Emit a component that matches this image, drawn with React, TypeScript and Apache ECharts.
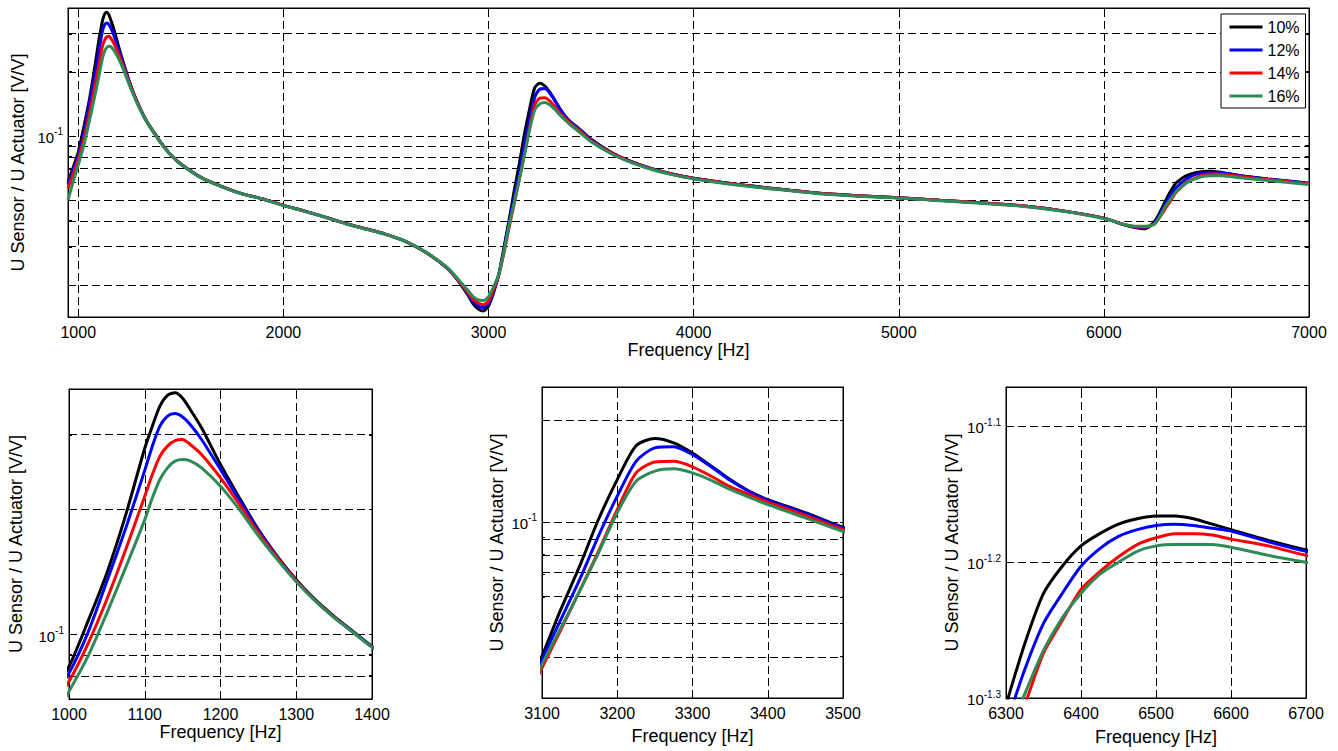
import React, { useEffect, useRef } from "react";
import * as echarts from "echarts";

// Frequency grid [Hz]
const FREQ_HZ = [
  950, 975, 1000, 1025, 1050, 1075, 1100, 1110, 1120, 1130,
  1140, 1150, 1160, 1175, 1200, 1225, 1250, 1275, 1300, 1325,
  1350, 1375, 1400, 1450, 1500, 1600, 1700, 1800, 1850, 1900,
  2000, 2100, 2200, 2300, 2400, 2500, 2600, 2700, 2800, 2850,
  2900, 2925, 2950, 2975, 3000, 3025, 3050, 3075, 3100, 3125,
  3150, 3175, 3200, 3225, 3250, 3275, 3300, 3325, 3350, 3375,
  3400, 3450, 3500, 3600, 3700, 3800, 3900, 4000, 4200, 4400,
  4600, 4800, 5000, 5200, 5400, 5600, 5800, 6000, 6100, 6150,
  6200, 6250, 6300, 6325, 6350, 6375, 6400, 6425, 6450, 6475,
  6500, 6525, 6550, 6575, 6600, 6650, 6700, 6800, 6900, 7000,
];

// log10 of U Sensor / U Actuator [V/V]
const LOG10_GAIN_10 = [
  -1.215, -1.148, -1.076, -0.968, -0.852, -0.712, -0.553, -0.5, -0.452, -0.426,
  -0.42, -0.433, -0.46, -0.504, -0.592, -0.672, -0.748, -0.812, -0.868, -0.916,
  -0.956, -0.992, -1.028, -1.088, -1.132, -1.196, -1.238, -1.272, -1.284, -1.296,
  -1.326, -1.352, -1.38, -1.41, -1.436, -1.462, -1.497, -1.55, -1.622, -1.678,
  -1.748, -1.788, -1.812, -1.822, -1.798, -1.735, -1.65, -1.525, -1.397, -1.259,
  -1.131, -0.993, -0.875, -0.775, -0.753, -0.766, -0.796, -0.835, -0.875, -0.909,
  -0.934, -0.973, -1.016, -1.078, -1.122, -1.155, -1.18, -1.199, -1.226, -1.248,
  -1.268, -1.281, -1.29, -1.302, -1.314, -1.328, -1.352, -1.386, -1.418, -1.43,
  -1.436, -1.398, -1.305, -1.26, -1.223, -1.203, -1.188, -1.179, -1.172, -1.168,
  -1.166, -1.166, -1.168, -1.172, -1.176, -1.184, -1.191, -1.202, -1.212, -1.222,
];
const LOG10_GAIN_12 = [
  -1.228, -1.16, -1.092, -0.995, -0.872, -0.744, -0.606, -0.548, -0.5, -0.476,
  -0.47, -0.478, -0.496, -0.532, -0.604, -0.678, -0.75, -0.814, -0.87, -0.918,
  -0.958, -0.993, -1.028, -1.088, -1.132, -1.196, -1.238, -1.272, -1.284, -1.296,
  -1.326, -1.352, -1.38, -1.41, -1.436, -1.462, -1.497, -1.55, -1.622, -1.676,
  -1.742, -1.777, -1.798, -1.806, -1.784, -1.727, -1.652, -1.535, -1.407, -1.289,
  -1.171, -1.042, -0.924, -0.821, -0.781, -0.778, -0.801, -0.837, -0.877, -0.91,
  -0.936, -0.975, -1.018, -1.079, -1.122, -1.155, -1.18, -1.199, -1.226, -1.248,
  -1.268, -1.281, -1.29, -1.302, -1.314, -1.328, -1.352, -1.386, -1.417, -1.428,
  -1.432, -1.405, -1.32, -1.279, -1.245, -1.223, -1.203, -1.19, -1.181, -1.176,
  -1.173, -1.172, -1.173, -1.175, -1.177, -1.185, -1.192, -1.203, -1.213, -1.223,
];
const LOG10_GAIN_14 = [
  -1.245, -1.18, -1.112, -1.022, -0.915, -0.795, -0.668, -0.616, -0.572, -0.548,
  -0.535, -0.532, -0.544, -0.568, -0.624, -0.688, -0.756, -0.816, -0.871, -0.918,
  -0.958, -0.994, -1.029, -1.088, -1.132, -1.196, -1.238, -1.272, -1.284, -1.296,
  -1.326, -1.352, -1.38, -1.41, -1.436, -1.462, -1.497, -1.55, -1.621, -1.674,
  -1.736, -1.767, -1.785, -1.792, -1.774, -1.72, -1.655, -1.55, -1.432, -1.319,
  -1.205, -1.087, -0.964, -0.855, -0.823, -0.821, -0.837, -0.865, -0.896, -0.919,
  -0.942, -0.981, -1.023, -1.081, -1.124, -1.156, -1.181, -1.2, -1.227, -1.249,
  -1.268, -1.281, -1.29, -1.302, -1.314, -1.328, -1.352, -1.386, -1.416, -1.426,
  -1.428, -1.41, -1.34, -1.305, -1.267, -1.243, -1.22, -1.207, -1.196, -1.187,
  -1.182, -1.179, -1.179, -1.18, -1.183, -1.188, -1.195, -1.205, -1.215, -1.225,
];
const LOG10_GAIN_16 = [
  -1.3, -1.215, -1.136, -1.052, -0.948, -0.838, -0.724, -0.672, -0.628, -0.6,
  -0.584, -0.58, -0.583, -0.6, -0.644, -0.7, -0.763, -0.82, -0.873, -0.919,
  -0.959, -0.994, -1.03, -1.089, -1.133, -1.197, -1.239, -1.273, -1.285, -1.297,
  -1.327, -1.353, -1.381, -1.411, -1.437, -1.463, -1.497, -1.549, -1.618, -1.67,
  -1.726, -1.754, -1.77, -1.772, -1.754, -1.708, -1.648, -1.545, -1.422, -1.314,
  -1.205, -1.092, -0.973, -0.88, -0.85, -0.843, -0.855, -0.877, -0.904, -0.927,
  -0.949, -0.988, -1.028, -1.085, -1.127, -1.159, -1.183, -1.202, -1.229, -1.251,
  -1.27, -1.283, -1.292, -1.304, -1.316, -1.33, -1.354, -1.388, -1.416, -1.424,
  -1.424, -1.412, -1.33, -1.297, -1.265, -1.241, -1.223, -1.209, -1.2, -1.192,
  -1.188, -1.187, -1.187, -1.187, -1.189, -1.195, -1.2, -1.209, -1.219, -1.228,
];

const SERIES_NAMES = ["10%", "12%", "14%", "16%"];
const SERIES_VALUES = [LOG10_GAIN_10, LOG10_GAIN_12, LOG10_GAIN_14, LOG10_GAIN_16];
const SERIES_COLORS = ["#000000", "#0000ff", "#ff0000", "#2e8b57"];

// Tick labels / grid lines
const TOP_X_TICKS = [1000, 2000, 3000, 4000, 5000, 6000, 7000];
const TOP_X_GRID = [1000, 2000, 3000, 4000, 5000, 6000];
const TOP_Y_GRID = [0.02, 0.03, 0.04, 0.05, 0.06, 0.07, 0.08, 0.09, 0.1, 0.2, 0.3];
const BL_X_TICKS = [1000, 1100, 1200, 1300, 1400];
const BL_X_GRID = [1100, 1200, 1300];
const BL_Y_GRID = [0.08, 0.09, 0.1, 0.2, 0.3];
const BM_X_TICKS = [3100, 3200, 3300, 3400, 3500];
const BM_X_GRID = [3200, 3300, 3400];
const BM_Y_GRID = [0.04, 0.05, 0.06, 0.07, 0.08, 0.09, 0.1, 0.2];
const BR_X_TICKS = [6300, 6400, 6500, 6600, 6700];
const BR_X_GRID = [6400, 6500, 6600];
const BR_Y_EXP = [-1.3, -1.2, -1.1];
const Y_EXP_MAIN = [-1];

const FONT = "'Liberation Sans', Arial, Helvetica, sans-serif";
const X_NAME = "Frequency [Hz]";
const Y_NAME = "U Sensor / U Actuator [V/V]";

const PANELS = [
  {
    grid: { left: 68, top: 8, width: 1241, height: 309 },
    xMin: 950, xMax: 7000, yMin: -1.85, yMax: -0.4,
    xTicks: TOP_X_TICKS, xGrid: TOP_X_GRID,
    yLabels: Y_EXP_MAIN, yGrid: TOP_Y_GRID.map((v) => Math.log10(v)),
    lineWidth: 3, xNameGap: 23, yNameGap: 36, tickLen: 5,
  },
  {
    grid: { left: 69, top: 389, width: 303, height: 310 },
    xMin: 1000, xMax: 1400, yMin: -1.154, yMax: -0.411,
    xTicks: BL_X_TICKS, xGrid: BL_X_GRID,
    yLabels: Y_EXP_MAIN, yGrid: BL_Y_GRID.map((v) => Math.log10(v)),
    lineWidth: 3, xNameGap: 21, yNameGap: 44, tickLen: 4,
  },
  {
    grid: { left: 542, top: 387, width: 301, height: 311 },
    xMin: 3100, xMax: 3500, yMin: -1.521, yMax: -0.601,
    xTicks: BM_X_TICKS, xGrid: BM_X_GRID,
    yLabels: Y_EXP_MAIN, yGrid: BM_Y_GRID.map((v) => Math.log10(v)),
    lineWidth: 3, xNameGap: 29, yNameGap: 36, tickLen: 4,
  },
  {
    grid: { left: 1006, top: 387, width: 300, height: 311 },
    xMin: 6300, xMax: 6700, yMin: -1.3, yMax: -1.071,
    xTicks: BR_X_TICKS, xGrid: BR_X_GRID,
    yLabels: BR_Y_EXP, yGrid: BR_Y_EXP,
    lineWidth: 3, xNameGap: 30, yNameGap: 45, tickLen: 4,
  },
];

function buildOption() {
  const grid: any[] = [];
  const xAxis: any[] = [];
  const yAxis: any[] = [];
  const series: any[] = [];

  PANELS.forEach((p, i) => {
    grid.push({
      ...p.grid,
      show: true,
      borderColor: "#000",
      borderWidth: 1,
      backgroundColor: "#fff",
      containLabel: false,
    });
    const xi = xAxis.length;
    xAxis.push({
      type: "value",
      gridIndex: i,
      min: p.xMin,
      max: p.xMax,
      name: X_NAME,
      nameLocation: "middle",
      nameGap: p.xNameGap,
      nameTextStyle: { fontSize: 18, color: "#000", fontFamily: FONT },
      axisLine: { show: true, lineStyle: { color: "#000", width: 1 } },
      axisTick: {
        show: true,
        inside: true,
        length: p.tickLen,
        customValues: p.xTicks,
        lineStyle: { color: "#000" },
      },
      axisLabel: {
        customValues: p.xTicks,
        margin: 7,
        fontSize: 16,
        color: "#000",
        fontFamily: FONT,
        formatter: (v: number) => String(v),
      },
      splitLine: { show: false },
    });
    // mirrored top axis: inward ticks only
    xAxis.push({
      type: "value",
      gridIndex: i,
      position: "top",
      min: p.xMin,
      max: p.xMax,
      axisLine: { show: true, lineStyle: { color: "#000", width: 1 } },
      axisTick: { show: true, inside: true, length: p.tickLen, customValues: p.xTicks, lineStyle: { color: "#000" } },
      axisLabel: { show: false },
      splitLine: { show: false },
    });
    const yi = yAxis.length;
    yAxis.push({
      type: "value",
      gridIndex: i,
      min: p.yMin,
      max: p.yMax,
      name: Y_NAME,
      nameLocation: "middle",
      nameRotate: 90,
      nameGap: p.yNameGap,
      nameTextStyle: { fontSize: 18, color: "#000", fontFamily: FONT },
      axisLine: { show: true, lineStyle: { color: "#000", width: 1 } },
      axisTick: {
        show: true,
        inside: true,
        length: p.tickLen - 1,
        customValues: p.yGrid,
        lineStyle: { color: "#000" },
      },
      axisLabel: {
        customValues: p.yLabels,
        margin: 5,
        color: "#000",
        formatter: (v: number) => `{b|10}{s|${Number(v.toFixed(2))}}`,
        rich: {
          b: { fontSize: 15, fontFamily: FONT, color: "#000", verticalAlign: "bottom", lineHeight: 18 },
          s: { fontSize: 10, fontFamily: FONT, color: "#000", verticalAlign: "top" },
        },
      },
      splitLine: { show: false },
    });
    yAxis.push({
      type: "value",
      gridIndex: i,
      position: "right",
      min: p.yMin,
      max: p.yMax,
      axisLine: { show: true, lineStyle: { color: "#000", width: 1 } },
      axisTick: { show: true, inside: true, length: p.tickLen - 1, customValues: p.yGrid, lineStyle: { color: "#000" } },
      axisLabel: { show: false },
      splitLine: { show: false },
    });

    // dashed grid lines
    series.push({
      type: "line",
      name: "grid" + i,
      xAxisIndex: xi,
      yAxisIndex: yi,
      data: [],
      silent: true,
      markLine: {
        silent: true,
        symbol: "none",
        animation: false,
        label: { show: false },
        emphasis: { disabled: true },
        lineStyle: { color: "#000", width: 1, type: [8, 4], opacity: 1 },
        data: [
          ...p.xGrid.map((v) => ({ xAxis: v })),
          ...p.yGrid.map((v) => ({ yAxis: v })),
        ],
      },
    });

    SERIES_NAMES.forEach((name, s) => {
      series.push({
        type: "line",
        name,
        xAxisIndex: xi,
        yAxisIndex: yi,
        data: FREQ_HZ.map((f, k) => [f, SERIES_VALUES[s][k]]),
        symbol: "none",
        showSymbol: false,
        smooth: 0.25,
        clip: true,
        z: 10 + s,
        color: SERIES_COLORS[s],
        lineStyle: { color: SERIES_COLORS[s], width: p.lineWidth },
        emphasis: { disabled: true },
      });
    });
  });

  return {
    animation: false,
    backgroundColor: "#fff",
    textStyle: { fontFamily: FONT },
    legend: {
      data: SERIES_NAMES,
      orient: "vertical",
      left: 1221,
      top: 14,
      padding: [5, 6, 4, 7],
      itemWidth: 33,
      itemHeight: 14,
      itemGap: 7,
      selectedMode: false,
      borderColor: "#000",
      borderWidth: 1,
      backgroundColor: "#fff",
      borderRadius: 0,
      itemStyle: { opacity: 0 },
      lineStyle: { width: 3 },
      textStyle: { fontSize: 16, color: "#000", fontFamily: FONT },
      z: 50,
    },
    grid,
    xAxis,
    yAxis,
    series,
  };
}

export default function App() {
  const ref = useRef<HTMLDivElement>(null);
  useEffect(() => {
    if (!ref.current) return;
    const chart = echarts.init(ref.current, null, { renderer: "svg" });
    chart.setOption(buildOption() as any);
    return () => chart.dispose();
  }, []);
  return (
    <div
      ref={ref}
      style={{ position: "fixed", left: 0, top: 0, width: 1338, height: 751, background: "#fff" }}
    />
  );
}
